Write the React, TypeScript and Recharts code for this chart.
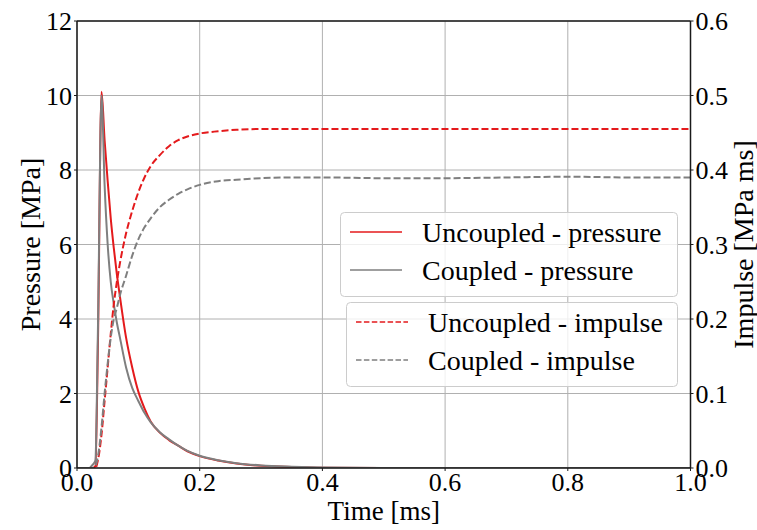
import { CartesianGrid, ComposedChart, Label, Legend, Line, ReferenceLine, XAxis, YAxis } from "recharts";

const FONT = "'Liberation Serif', 'Times New Roman', serif";
const RED = "#e41a1c";
const GREY = "#7f7f7f";
const FRAME = "#1a1a1a";
const GRID = "#b0b0b0";

// time [ms]
const TIME = [
  0, 0.02, 0.025, 0.03, 0.034, 0.04, 0.045, 0.05, 0.055, 0.06, 0.065, 0.07, 0.08, 0.09, 0.1, 0.11, 0.12, 0.135,
  0.15, 0.165, 0.18, 0.2, 0.23, 0.26, 0.3, 0.35, 0.4, 0.5, 0.6, 0.7, 0.8, 0.9, 1.0,
];
// pressure [MPa]
const UNCOUPLED_PRESSURE = [
  0, 0, 0, 0.05, 3.2, 10.1, 8.8, 7.7, 6.7, 5.9, 5.2, 4.6, 3.5, 2.7, 2.05, 1.6, 1.25, 0.95, 0.75, 0.6, 0.45, 0.32,
  0.2, 0.12, 0.06, 0.03, 0.01, 0, 0, 0, 0, 0, 0,
];
const COUPLED_PRESSURE = [
  0, 0, 0.08, 0.2, 3.6, 10.0, 7.6, 6.0, 5.0, 4.4, 3.9, 3.5, 2.7, 2.15, 1.8, 1.48, 1.23, 0.96, 0.77, 0.6, 0.46, 0.33,
  0.21, 0.13, 0.07, 0.035, 0.015, 0, 0, 0, 0, 0, 0,
];
// impulse [MPa ms]
const UNCOUPLED_IMPULSE = [
  0, 0, 0, 0, 0.01, 0.045, 0.09, 0.135, 0.18, 0.22, 0.25, 0.275, 0.315, 0.345, 0.37, 0.39, 0.405, 0.42, 0.432,
  0.44, 0.445, 0.449, 0.452, 0.454, 0.455, 0.455, 0.455, 0.455, 0.455, 0.455, 0.455, 0.455, 0.455,
];
const COUPLED_IMPULSE = [
  0, 0, 0, 0.003, 0.015, 0.055, 0.1, 0.14, 0.175, 0.2, 0.215, 0.232, 0.258, 0.285, 0.307, 0.323, 0.335, 0.35, 0.36,
  0.368, 0.374, 0.38, 0.385, 0.387, 0.389, 0.39, 0.39, 0.389, 0.389, 0.39, 0.391, 0.39, 0.39,
];

const TIME_TICKS = [0, 0.2, 0.4, 0.6, 0.8, 1.0];
const PRESSURE_TICKS = [0, 2, 4, 6, 8, 10, 12];
const IMPULSE_TICKS = [0, 0.1, 0.2, 0.3, 0.4, 0.5, 0.6];

const data = TIME.map((t, i) => ({
  t,
  up: UNCOUPLED_PRESSURE[i],
  cp: COUPLED_PRESSURE[i],
  ui: UNCOUPLED_IMPULSE[i],
  ci: COUPLED_IMPULSE[i],
}));

const tickStyle = { fontSize: 26, fill: "#000", fontFamily: FONT };

function rotatedLabel(text: string, dx: number) {
  return (props: any) => {
    const vb = props.viewBox;
    const cx = vb.x + dx;
    const cy = vb.y + vb.height / 2;
    return (
      <text
        x={cx}
        y={cy}
        transform={`rotate(-90 ${cx} ${cy})`}
        textAnchor="middle"
        dominantBaseline="central"
        fontSize={28}
        fontFamily={FONT}
        fill="#000"
      >
        {text}
      </text>
    );
  };
}

function LegendBoxes() {
  const box1 = [
    { label: "Uncoupled - pressure", color: RED },
    { label: "Coupled - pressure", color: GREY },
  ];
  const box2 = [
    { label: "Uncoupled - impulse", color: RED },
    { label: "Coupled - impulse", color: GREY },
  ];
  return (
    <svg width={340} height={178} style={{ display: "block" }}>
      <rect x={0.5} y={0.5} width={337} height={84} rx={4} fill="rgba(255,255,255,0.8)" stroke="#cccccc" />
      {box1.map((e, i) => (
        <g key={e.label}>
          <line x1={10} x2={62} y1={20 + i * 38} y2={20 + i * 38} stroke={e.color} strokeWidth={1.5} />
          <text x={82} y={30 + i * 38} fontSize={28} fontFamily={FONT} fill="#000">
            {e.label}
          </text>
        </g>
      ))}
      <rect x={6.5} y={90.5} width={331} height={84} rx={4} fill="rgba(255,255,255,0.8)" stroke="#cccccc" />
      {box2.map((e, i) => (
        <g key={e.label}>
          <line
            x1={16}
            x2={68}
            y1={110 + i * 38}
            y2={110 + i * 38}
            stroke={e.color}
            strokeWidth={1.5}
            strokeDasharray="5.5 2.4"
          />
          <text x={88} y={120 + i * 38} fontSize={28} fontFamily={FONT} fill="#000">
            {e.label}
          </text>
        </g>
      ))}
    </svg>
  );
}

export default function App() {
  return (
    <div style={{ position: "absolute", left: 0, top: 0, width: 757, height: 530, background: "#fff" }}>
      <ComposedChart width={757} height={530} data={data} margin={{ top: 21, right: 0, bottom: 0, left: 0 }}>
        <CartesianGrid yAxisId="left" stroke={GRID} strokeWidth={1} />
        <XAxis
          dataKey="t"
          type="number"
          domain={[0, 1]}
          ticks={TIME_TICKS}
          tickFormatter={(v: number) => v.toFixed(1)}
          height={62}
          tick={tickStyle}
          tickSize={3}
          tickMargin={2}
          axisLine={{ stroke: FRAME, strokeWidth: 1.5 }}
          tickLine={{ stroke: FRAME }}
          allowDataOverflow
        >
          <Label value="Time [ms]" position="insideBottom" offset={10} fontSize={27} fontFamily={FONT} fill="#000" />
        </XAxis>
        <YAxis
          yAxisId="left"
          domain={[0, 12]}
          ticks={PRESSURE_TICKS}
          width={77}
          tick={tickStyle}
          tickSize={3}
          tickMargin={2}
          axisLine={{ stroke: FRAME, strokeWidth: 1.5 }}
          tickLine={{ stroke: FRAME }}
          allowDataOverflow
        >
          <Label content={rotatedLabel("Pressure [MPa]", 30)} />
        </YAxis>
        <YAxis
          yAxisId="right"
          orientation="right"
          domain={[0, 0.6]}
          ticks={IMPULSE_TICKS}
          tickFormatter={(v: number) => v.toFixed(1)}
          width={66.5}
          tick={tickStyle}
          tickSize={3}
          tickMargin={2}
          axisLine={{ stroke: FRAME, strokeWidth: 1.5 }}
          tickLine={{ stroke: FRAME }}
          allowDataOverflow
        >
          <Label content={rotatedLabel("Impulse [MPa ms]", 53)} />
        </YAxis>
        <ReferenceLine yAxisId="left" y={12} stroke={FRAME} strokeWidth={1.5} />
        <Line
          yAxisId="left"
          dataKey="up"
          type="monotone"
          stroke={RED}
          strokeWidth={2}
          dot={false}
          isAnimationActive={false}
        />
        <Line
          yAxisId="left"
          dataKey="cp"
          type="monotone"
          stroke={GREY}
          strokeWidth={2}
          dot={false}
          isAnimationActive={false}
        />
        <Line
          yAxisId="right"
          dataKey="ui"
          type="monotone"
          stroke={RED}
          strokeWidth={2}
          strokeDasharray="7 3"
          dot={false}
          isAnimationActive={false}
        />
        <Line
          yAxisId="right"
          dataKey="ci"
          type="monotone"
          stroke={GREY}
          strokeWidth={2}
          strokeDasharray="7 3"
          dot={false}
          isAnimationActive={false}
        />
        <Legend
          layout="horizontal"
          verticalAlign="middle"
          align="center"
          content={LegendBoxes}
          wrapperStyle={{ left: 340, top: 212, width: 340, height: 178 }}
        />
      </ComposedChart>
    </div>
  );
}
